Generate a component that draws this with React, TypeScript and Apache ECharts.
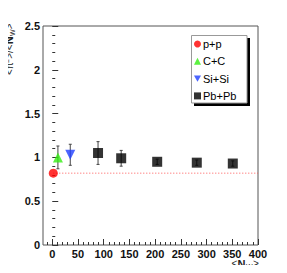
import React, { useEffect, useRef } from "react";
import * as echarts from "echarts";

const seriesNames = ["p+p", "C+C", "Si+Si", "Pb+Pb"];
const ppX = [2];
const ppY = [0.82];
const ccX = [11];
const ccY = [1.0];
const ccErr = [0.13];
const siX = [35];
const siY = [1.03];
const siErr = [0.12];
const pbX = [89, 134, 204, 281, 351];
const pbY = [1.05, 0.99, 0.95, 0.94, 0.93];
const pbErr = [0.13, 0.09, 0.03, 0.03, 0.03];
const refLine = [[2, 0.82], [400, 0.82]];
const xTicks = [0, 50, 100, 150, 200, 250, 300, 350, 400];
const xMinorTicks = [-10, 0, 10, 20, 30, 40, 50, 60, 70, 80, 90, 100, 110, 120, 130, 140, 150, 160, 170, 180, 190, 200, 210, 220, 230, 240, 250, 260, 270, 280, 290, 300, 310, 320, 330, 340, 350, 360, 370, 380, 390, 400];

const FONT = "Liberation Sans";
const INV_TRI = "path://M0,0 L10,0 L5,9 Z";
const TC = "#222";

function txt(text: string, x: number, y: number, size: number, bold: boolean, rot: number) {
  return {
    type: "text", x, y, rotation: rot, z: 10, silent: true,
    style: {
      text,
      font: (bold ? "bold " : "") + size + "px 'Liberation Sans', Arial, sans-serif",
      fill: TC, align: "left", verticalAlign: "middle",
    },
  };
}

export default function App() {
  const ref = useRef<HTMLDivElement>(null);
  useEffect(() => {
    if (!ref.current) return;
    const chart = echarts.init(ref.current, null, { renderer: "svg" });
    const mk = (xs: number[], ys: number[]) => xs.map((x, i) => [x, ys[i]]);
    const errData: number[][] = [];
    const addErr = (xs: number[], ys: number[], es: number[]) =>
      xs.forEach((x, i) => { if (es[i] > 0) errData.push([x, ys[i] - es[i], ys[i] + es[i]]); });
    addErr(ccX, ccY, ccErr);
    addErr(siX, siY, siErr);
    addErr(pbX, pbY, pbErr);

    const R = Math.PI / 2;
    const yTitle = [
      txt("<π", 9, 75, 10, false, R),
      txt("±", 6, 63, 7, false, R),
      txt(">/<", 9, 58.8, 10, false, R),
      txt("N", 9, 44.2, 11, true, R),
      txt("W", 12, 36, 7, false, R),
      txt(">", 9, 29.2, 10, false, R),
    ];
    const xTitle = [
      txt("<", 231.5, 263.5, 10, false, 0),
      txt("N", 237.6, 263.5, 11, true, 0),
      txt("W", 246, 266.5, 7, false, 0),
      txt(">", 253, 263.5, 10, false, 0),
    ];

    chart.setOption({
      animation: false,
      backgroundColor: "#fff",
      grid: { left: 43, right: 29, top: 26, bottom: 28, show: true, borderColor: "#555", borderWidth: 1, backgroundColor: "transparent" },
      xAxis: [
        {
          type: "value", min: -18, max: 400,
          axisLine: { show: false },
          splitLine: { show: false },
          axisTick: { show: true, inside: true, length: 6, customValues: xTicks, lineStyle: { color: "#333" } },
          axisLabel: { show: true, customValues: xTicks, margin: 3, color: "#111", fontFamily: FONT, fontWeight: "bold", fontSize: 11, lineHeight: 11 },
        },
        {
          type: "value", min: -18, max: 400, position: "bottom",
          axisLine: { show: false },
          splitLine: { show: false },
          axisTick: { show: true, inside: true, length: 3, customValues: xMinorTicks, lineStyle: { color: "#333" } },
          axisLabel: { show: false },
        },
      ],
      yAxis: {
        type: "value", min: 0, max: 2.5, interval: 0.5,
        axisLine: { show: false },
        splitLine: { show: false },
        axisTick: { show: true, inside: true, length: 6, lineStyle: { color: "#333" } },
        minorTick: { show: true, splitNumber: 5, length: 3, lineStyle: { color: "#333" } },
        axisLabel: { margin: 3, color: "#111", fontFamily: FONT, fontWeight: "bold", fontSize: 11, formatter: (v: number) => String(v) },
      },
      legend: {
        orient: "vertical", left: 194, top: 38, padding: 0,
        itemWidth: 7, itemHeight: 7, itemGap: 5.3,
        textStyle: { fontFamily: FONT, fontSize: 11, color: "#000", lineHeight: 12, padding: [0, 0, 0, -3] },
        data: [
          { name: seriesNames[0], icon: "circle" },
          { name: seriesNames[1], icon: "triangle" },
          { name: seriesNames[2], icon: INV_TRI },
          { name: seriesNames[3], icon: "rect" },
        ],
        z: 10,
      },
      graphic: [
        { type: "rect", shape: { x: 194, y: 38, width: 56, height: 68 }, style: { fill: "#000" }, z: 5 },
        { type: "rect", shape: { x: 191.5, y: 35.5, width: 55.5, height: 67.5 }, style: { fill: "#fff", stroke: "#999", lineWidth: 1 }, z: 6 },
        ...yTitle,
        ...xTitle,
      ],
      series: [
        {
          type: "line", name: "ref", z: 1, silent: true, symbol: "none",
          data: refLine,
          lineStyle: { color: "#ff5555", type: [1, 2], width: 1 },
        },
        {
          type: "custom", name: "err", z: 2, silent: true,
          data: errData,
          renderItem: (params: any, api: any) => {
            const x = api.value(0);
            const lo = api.coord([x, api.value(1)]);
            const hi = api.coord([x, api.value(2)]);
            const st = { stroke: "#444", lineWidth: 1 };
            return {
              type: "group",
              children: [
                { type: "line", shape: { x1: lo[0], y1: lo[1], x2: hi[0], y2: hi[1] }, style: st },
                { type: "line", shape: { x1: lo[0] - 1.5, y1: lo[1], x2: lo[0] + 1.5, y2: lo[1] }, style: st },
                { type: "line", shape: { x1: hi[0] - 1.5, y1: hi[1], x2: hi[0] + 1.5, y2: hi[1] }, style: st },
              ],
            };
          },
        },
        {
          type: "scatter", name: "p+p", z: 3, symbol: "circle", symbolSize: 9,
          itemStyle: { color: "#ff0000" },
          data: mk(ppX, ppY),
        },
        {
          type: "scatter", name: "C+C", z: 3, symbol: "triangle", symbolSize: 10,
          itemStyle: { color: "#33ee11" },
          data: mk(ccX, ccY),
        },
        {
          type: "scatter", name: "Si+Si", z: 3, symbol: "triangle", symbolRotate: 180, symbolSize: 10,
          itemStyle: { color: "#1f3fff" },
          data: mk(siX, siY),
        },
        {
          type: "scatter", name: "Pb+Pb", z: 3, symbol: "rect", symbolSize: 10,
          itemStyle: { color: "#000" },
          data: mk(pbX, pbY),
        },
      ],
    });
    return () => chart.dispose();
  }, []);
  return <div ref={ref} style={{ width: 287, height: 273, margin: -8 }} />;
}
